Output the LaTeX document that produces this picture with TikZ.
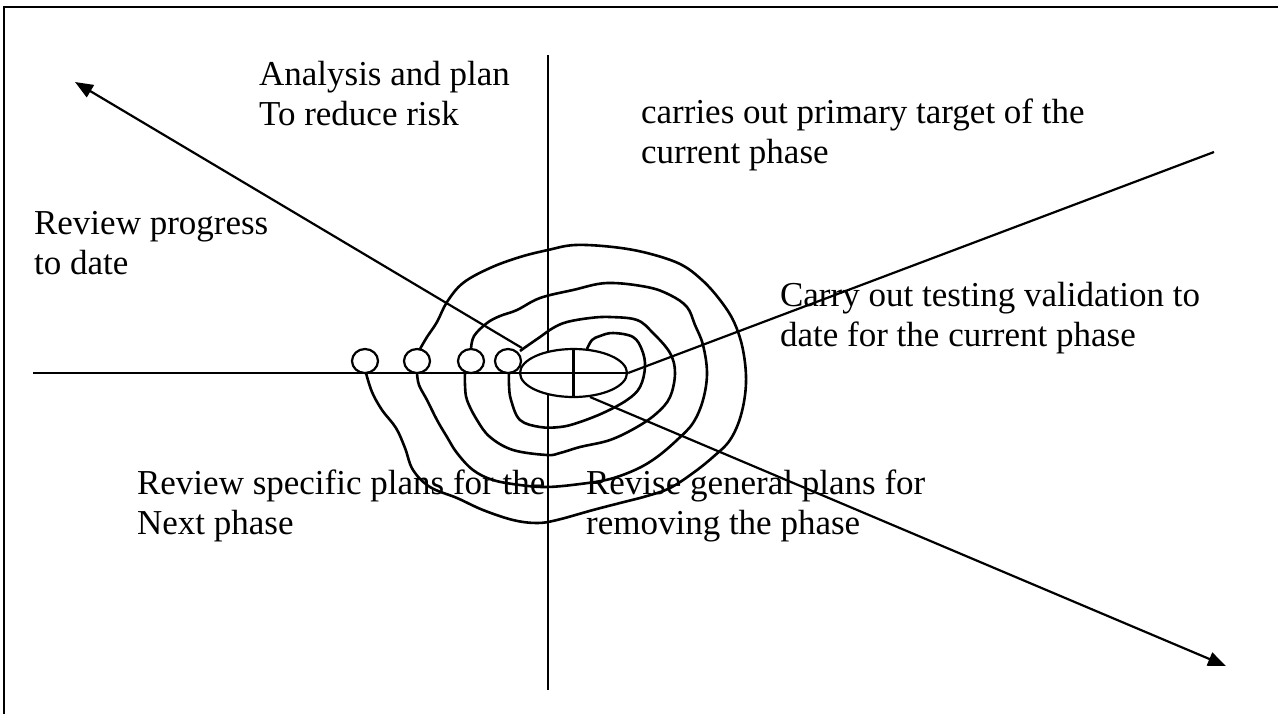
\documentclass[tikz,border=0pt]{standalone}
\usepackage{fontspec}
\setmainfont{Liberation Serif}
\usetikzlibrary{shapes.geometric, arrows.meta, calc}

\begin{document}
\begin{tikzpicture}[x=0.5pt, y=-0.5pt, line width=1.1pt]
    \tikzstyle{label} = [anchor=base west, align=left, inner sep=0pt, font=\fontsize{17.5}{20}\selectfont]
    \tikzstyle{ring} = [ellipse, draw, minimum width=13pt, minimum height=12pt, inner sep=0pt]
    \tikzstyle{hub} = [ellipse, draw, minimum width=53.5pt, minimum height=24pt, inner sep=0pt]
    \tikzstyle{arrow} = [->,>={Triangle[length=9pt,width=7pt]}]
    \tikzstyle{spiral} = [line width=1.3pt, line join=round]
    \useasboundingbox (0,0) rectangle (1278,713);
    \clip (0,0) rectangle (1278,713);
    \draw[line width=1pt] (4,7) rectangle (1300,740);
    % Nodes
    \node (core) [hub] at (573.5,373) {};
    \node (firstring) [ring] at (365,361) {};
    \node (secondring) [ring] at (417,361) {};
    \node (thirdring) [ring] at (471,361) {};
    \node (fourthring) [ring] at (508,361) {};
    \coordinate (axisleft) at (33,373);
    \coordinate (axistop) at (548,55);
    \coordinate (axisbottom) at (548,690);
    \coordinate (nwstart) at (522,348);
    \coordinate (nwtip) at (75,82);
    \coordinate (neend) at (1214,152);
    \coordinate (sestart) at (590,397);
    \coordinate (setip) at (1226,666);
    % labels (base = last line)
    \node (analysis) [label] at (258,125) {Analysis and plan\\To reduce risk};
    \node (carriesout) [label] at (640,163) {carries out primary target of the\\current phase};
    \node (reviewprogress) [label] at (33,274) {Review progress\\to date};
    \node (carrytesting) [label] at (779,346) {Carry out testing validation to\\date for the current phase};
    \node (reviewplans) [label] at (136,534) {Review specific plans for the\\Next phase};
    \node (reviseplans) [label] at (585,534) {Revise general plans for\\removing the phase};
    % Axes
    \draw (axisleft) -- (core.east);
    \draw (axistop) -- (axistop |- core.140);
    \draw (axisbottom |- core.220) -- (axisbottom);
    \draw (core.north) -- (core.south);
    % Arrows
    \draw [arrow] (nwstart) -- (nwtip);
    \draw (core.east) -- (neend);
    \draw [arrow] (sestart) -- (setip);
    % Spiral
    \draw [spiral] plot[smooth, tension=0.6] coordinates {(420,349) (427,337) (437,322) (447,302) (463,283) (490,268) (520,257) (548,250) (575,245) (613,247) (647,253) (680,264) (702,280) (720,300) (734,322) (743,350) (746,383) (741,415) (730,440) (713,457) (693,473) (670,488) (647,496) (620,503) (593,510) (557,520) (537,523) (513,520) (483,510) (457,498) (430,487) (413,470) (405,448) (396,428) (382,410) (372,392) (366,373)};
    \draw [spiral] plot[smooth, tension=0.6] coordinates {(471,349) (474,336) (487,323) (500,316) (517,310) (540,298) (573,290) (607,283) (647,287) (670,295) (687,307) (695,325) (703,345) (707,373) (703,400) (693,423) (677,440) (657,457) (637,469) (610,479) (580,484) (547,487) (520,485) (493,480) (473,470) (457,453) (447,437) (437,420) (427,400) (419,385) (417,373)};
    \draw [spiral] plot[smooth, tension=0.6] coordinates {(520,351) (527,346) (540,337) (553,328) (567,322) (590,318) (610,317) (637,320) (653,333) (670,353) (675,373) (670,397) (657,413) (637,427) (610,440) (580,447) (560,453) (547,455) (513,450) (490,437) (477,420) (467,400) (465,385) (465,373)};
    \draw [spiral] plot[smooth, tension=0.6] coordinates {(587,349) (592,340) (600,336) (613,333) (633,337) (642,350) (645,367) (640,387) (627,400) (603,413) (577,423) (560,427) (540,427) (520,420) (511,400) (509,385) (509,373)};
\end{tikzpicture}
\end{document}
